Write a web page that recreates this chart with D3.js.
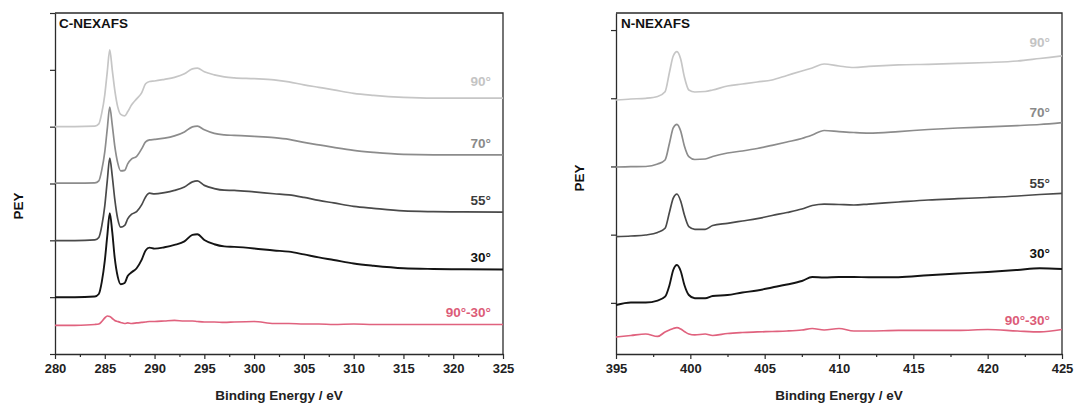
<!DOCTYPE html>
<html>
<head>
<meta charset="utf-8">
<script src="https://cdn.jsdelivr.net/npm/d3@7"></script>
<style>
  html, body { margin: 0; padding: 0; background: #fff; }
  svg text { font-family: "Liberation Sans", Arial, sans-serif; font-weight: bold; }
</style>
</head>
<body>
<svg id="chart" width="1077" height="405"></svg>
<script>
// ---------------- DATA ----------------
const seriesNames = ["90°", "70°", "55°", "30°", "90°-30°"];

// C-NEXAFS (left panel)
const cEnergy = [280, 282, 284, 284.4, 284.7, 285.0, 285.25, 285.5, 285.75, 286.0, 286.3, 286.6, 287.0, 287.3, 287.7, 288.2, 288.7, 289.1, 289.5, 290, 291, 292, 293, 293.8, 294.3, 295, 296, 297, 298, 300, 302, 303.5, 305, 306.5, 308, 310, 312, 315, 318, 321, 325];
const c90 = [4.002, 4.002, 4.009, 4.049, 4.243, 4.560, 4.965, 5.352, 5.000, 4.648, 4.349, 4.217, 4.190, 4.261, 4.384, 4.489, 4.595, 4.754, 4.794, 4.803, 4.833, 4.868, 4.930, 5.018, 5.030, 4.965, 4.912, 4.877, 4.859, 4.845, 4.824, 4.789, 4.736, 4.692, 4.648, 4.586, 4.551, 4.516, 4.502, 4.502, 4.502];
const c70 = [3.005, 3.005, 3.011, 3.046, 3.239, 3.556, 3.961, 4.343, 4.032, 3.662, 3.363, 3.222, 3.231, 3.345, 3.433, 3.477, 3.609, 3.732, 3.768, 3.776, 3.798, 3.838, 3.908, 3.996, 4.009, 3.944, 3.882, 3.856, 3.847, 3.829, 3.806, 3.776, 3.724, 3.680, 3.636, 3.583, 3.548, 3.512, 3.504, 3.504, 3.504];
const c55 = [1.995, 1.995, 2.007, 2.051, 2.254, 2.606, 3.046, 3.445, 3.134, 2.729, 2.377, 2.231, 2.262, 2.377, 2.460, 2.505, 2.623, 2.764, 2.829, 2.817, 2.840, 2.879, 2.940, 3.028, 3.046, 2.967, 2.910, 2.882, 2.879, 2.852, 2.820, 2.799, 2.755, 2.702, 2.658, 2.597, 2.562, 2.518, 2.505, 2.500, 2.495];
const c30 = [0.998, 0.998, 1.012, 1.056, 1.268, 1.637, 2.077, 2.477, 2.148, 1.690, 1.361, 1.227, 1.250, 1.373, 1.438, 1.509, 1.655, 1.822, 1.871, 1.854, 1.879, 1.919, 1.981, 2.095, 2.107, 2.007, 1.931, 1.893, 1.884, 1.857, 1.822, 1.801, 1.752, 1.699, 1.655, 1.593, 1.553, 1.509, 1.496, 1.491, 1.488];
const cDiff = [0.502, 0.505, 0.519, 0.528, 0.572, 0.634, 0.669, 0.660, 0.625, 0.590, 0.572, 0.555, 0.537, 0.546, 0.537, 0.546, 0.555, 0.563, 0.572, 0.572, 0.581, 0.590, 0.581, 0.581, 0.572, 0.563, 0.563, 0.555, 0.563, 0.572, 0.537, 0.537, 0.528, 0.528, 0.519, 0.528, 0.519, 0.519, 0.519, 0.519, 0.519];

// N-NEXAFS (right panel)
const nEnergy = [395, 396, 397, 397.8, 398.3, 398.6, 398.85, 399.1, 399.35, 399.6, 399.9, 400.3, 401, 401.5, 402.5, 403.5, 404.5, 405.5, 406.5, 407.5, 408.2, 409, 410, 411, 412, 414, 416, 418, 420, 422, 423.5, 425];
const n90 = [3.724, 3.739, 3.749, 3.776, 3.846, 4.135, 4.370, 4.433, 4.326, 4.062, 3.871, 3.842, 3.849, 3.871, 3.930, 3.959, 3.988, 4.018, 4.084, 4.150, 4.194, 4.252, 4.223, 4.201, 4.216, 4.238, 4.248, 4.260, 4.274, 4.296, 4.333, 4.370];
const n70 = [2.742, 2.746, 2.749, 2.786, 2.845, 3.094, 3.314, 3.368, 3.270, 3.050, 2.893, 2.852, 2.859, 2.896, 2.947, 2.977, 3.013, 3.060, 3.109, 3.160, 3.211, 3.277, 3.262, 3.248, 3.240, 3.262, 3.292, 3.314, 3.331, 3.350, 3.365, 3.392];
const n55 = [1.720, 1.730, 1.745, 1.782, 1.843, 2.082, 2.287, 2.346, 2.243, 2.038, 1.867, 1.828, 1.828, 1.884, 1.916, 1.950, 1.984, 2.031, 2.075, 2.126, 2.177, 2.199, 2.192, 2.185, 2.199, 2.229, 2.258, 2.277, 2.295, 2.317, 2.339, 2.356];
const n30 = [0.718, 0.755, 0.755, 0.784, 0.840, 1.012, 1.232, 1.305, 1.217, 1.012, 0.865, 0.817, 0.817, 0.850, 0.865, 0.902, 0.931, 0.975, 1.019, 1.070, 1.129, 1.122, 1.129, 1.129, 1.125, 1.126, 1.155, 1.180, 1.202, 1.232, 1.257, 1.246];
const nDiff = [0.249, 0.271, 0.293, 0.257, 0.323, 0.352, 0.374, 0.386, 0.367, 0.330, 0.293, 0.279, 0.293, 0.271, 0.301, 0.315, 0.323, 0.330, 0.337, 0.352, 0.374, 0.352, 0.374, 0.337, 0.337, 0.345, 0.345, 0.345, 0.359, 0.337, 0.323, 0.359];

const cTicksX = [280, 285, 290, 295, 300, 305, 310, 315, 320, 325];
const nTicksX = [395, 400, 405, 410, 415, 420, 425];

// ---------------- LAYOUT / STYLE ----------------
const colors = ["#c6c6c6", "#8c8c8c", "#4a4a4a", "#141414", "#e0627e"];
const labelColors = ["#c4c4c4", "#8a8a8a", "#3c3c3c", "#111111", "#dc5c78"];

const panels = [
  {
    title: "C-NEXAFS",
    energy: cEnergy, series: [c90, c70, c55, c30, cDiff],
    xDomain: [280, 325], xRange: [55, 503], xTicks: cTicksX,
    yDomain: [0, 6], yTicks: [0, 1, 2, 3, 4, 5, 6],
    labelY: [81, 143, 200, 257, 312], labelX: 491,
    peyY: 206, peyX: 18, titleX: 59
  },
  {
    title: "N-NEXAFS",
    energy: nEnergy, series: [n90, n70, n55, n30, nDiff],
    xDomain: [395, 425], xRange: [616, 1062], xTicks: nTicksX,
    yDomain: [0, 5], yTicks: [0.75, 1.75, 2.75, 3.75, 4.75],
    labelY: [42, 112, 183, 253, 320], labelX: 1050,
    peyY: 178, peyX: 579, titleX: 621
  }
];
const yTop = 13, yBottom = 354;
const axisColor = "#2b2b2b";

const svg = d3.select("#chart");

panels.forEach(p => {
  const x = d3.scaleLinear().domain(p.xDomain).range(p.xRange);
  const y = d3.scaleLinear().domain(p.yDomain).range([yBottom, yTop]);
  const g = svg.append("g");

  // frame (top & right)
  g.append("path")
    .attr("d", `M${p.xRange[0]},${yTop}H${p.xRange[1]}V${yBottom}`)
    .attr("fill", "none").attr("stroke", axisColor).attr("stroke-width", 1.3);

  // minor x ticks
  const minor = [];
  for (let v = p.xDomain[0] + 2.5; v < p.xDomain[1]; v += 5) minor.push(v);
  g.append("g").attr("transform", `translate(0,${yBottom})`)
    .call(d3.axisBottom(x).tickValues(minor).tickSize(3).tickFormat(""))
    .call(s => s.select(".domain").remove())
    .selectAll("line").attr("stroke", axisColor).attr("stroke-width", 1.2);

  // major x axis
  const xa = g.append("g").attr("transform", `translate(0,${yBottom})`)
    .call(d3.axisBottom(x).tickValues(p.xTicks).tickSize(5).tickSizeOuter(0).tickPadding(5).tickFormat(d3.format("d")));
  xa.select(".domain").attr("stroke", axisColor).attr("stroke-width", 1.3);
  xa.selectAll("line").attr("stroke", axisColor).attr("stroke-width", 1.2);
  xa.selectAll("text").attr("fill", "#222").style("font-size", "13px")
    .style("font-family", "'Liberation Sans', Arial, sans-serif").style("font-weight", "bold");

  // y axis
  const ya = g.append("g").attr("transform", `translate(${p.xRange[0]},0)`)
    .call(d3.axisLeft(y).tickValues(p.yTicks).tickSize(5).tickSizeOuter(0).tickFormat(""));
  ya.select(".domain").attr("stroke", axisColor).attr("stroke-width", 1.3);
  ya.selectAll("line").attr("stroke", axisColor).attr("stroke-width", 1.2);

  // curves
  const line = d3.line().curve(d3.curveMonotoneX)
    .x((d, i) => x(p.energy[i])).y(d => y(d));
  p.series.forEach((s, i) => {
    g.append("path").datum(s)
      .attr("d", line)
      .attr("fill", "none")
      .attr("stroke", colors[i])
      .attr("stroke-width", i === 3 ? 1.9 : 1.7)
      .attr("stroke-linejoin", "round");
  });

  // series labels
  seriesNames.forEach((n, i) => {
    g.append("text").text(n)
      .attr("x", p.labelX).attr("y", p.labelY[i])
      .attr("dy", "0.35em").attr("text-anchor", "end")
      .attr("fill", labelColors[i]).style("font-size", "13.5px");
  });

  // panel title
  g.append("text").text(p.title)
    .attr("x", p.titleX).attr("y", 28)
    .attr("fill", "#111").style("font-size", "13.5px");

  // axis titles
  g.append("text").text("Binding Energy / eV")
    .attr("x", (p.xRange[0] + p.xRange[1]) / 2).attr("y", 400)
    .attr("text-anchor", "middle").attr("fill", "#222").style("font-size", "13.5px");
  g.append("text").text("PEY")
    .attr("transform", `translate(${p.peyX},${p.peyY}) rotate(-90)`)
    .attr("text-anchor", "middle").attr("dy", "0.35em")
    .attr("fill", "#111").style("font-size", "13.5px");
});
</script>
</body>
</html>
